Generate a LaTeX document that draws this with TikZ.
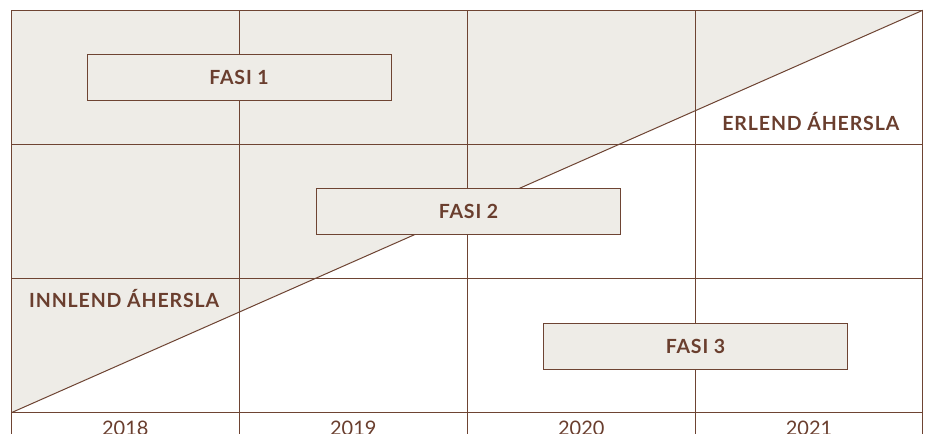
\documentclass[tikz,border=0pt]{standalone}
\usepackage{fontspec}
\setmainfont{Lato}
\newfontfamily\labfont{Lato}[LetterSpace=4.5]
\definecolor{brn}{HTML}{6E4433}
\definecolor{txt}{HTML}{6A3E2E}
\definecolor{pale}{HTML}{EEECE7}
\begin{document}
\begin{tikzpicture}[x=1pt,y=-1pt,
  grid/.style={draw=brn,line width=1pt},
  phase/.style={draw=brn,fill=pale,line width=1pt,minimum width=304pt,minimum height=46pt,inner sep=0pt,
    font=\labfont\fontsize{19.5}{21}\selectfont\bfseries,text=txt},
  lbl/.style={font=\labfont\fontsize{19.5}{21}\selectfont\bfseries,text=txt,inner sep=0pt},
  yr/.style={font=\fontsize{20}{22}\selectfont,text=txt,inner sep=0pt,anchor=base}]
\useasboundingbox (0,0) rectangle (930,434);
\fill[white] (0,0) rectangle (930,434);
% shaded upper-left triangle
\fill[pale] (11.3,412.7) -- (11.3,10.3) -- (922.7,10.3) -- cycle;
% grid
\draw[grid] (11.3,434) -- (11.3,10.3) -- (922.7,10.3) -- (922.7,434);
\draw[grid] (11.3,144.4) -- (922.7,144.4);
\draw[grid] (11.3,278.8) -- (922.7,278.8);
\draw[grid] (11.3,412.9) -- (922.7,412.9);
\draw[grid] (239.3,10.3) -- (239.3,434);
\draw[grid] (467.3,10.3) -- (467.3,434);
\draw[grid] (695.3,10.3) -- (695.3,434);
% diagonal
\draw[draw=brn,line width=1pt] (11.3,412.7) -- (922.7,10.3);
% phases
\node[phase] (f1) at (239,77.2) {FASI 1};
\node[phase] (f2) at (468.5,211.5) {FASI 2};
\node[phase] (f3) at (695.5,346.2) {FASI 3};
% labels
\node[lbl,anchor=base east] (erl) at (899.5,130.5) {ERLEND ÁHERSLA};
\node[lbl,anchor=base west] (inn) at (29,307.5) {INNLEND ÁHERSLA};
% years
\node[yr] (y18) at (125.3,435.5) {2018};
\node[yr] (y19) at (353.3,435.5) {2019};
\node[yr] (y20) at (581.3,435.5) {2020};
\node[yr] (y21) at (809,435.5) {2021};
\end{tikzpicture}
\end{document}
